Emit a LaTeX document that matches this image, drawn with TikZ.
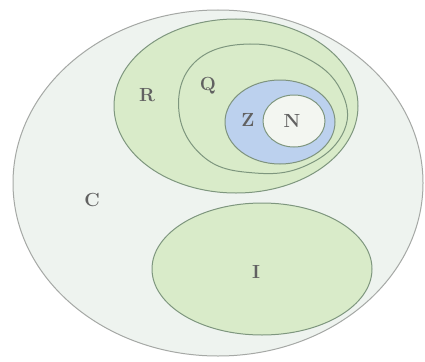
\documentclass[tikz,border=0pt]{standalone}
\begin{document}
\begin{tikzpicture}[x=1pt,y=-1pt,
  setline/.style={line width=1pt},
  lbl/.style={text=black!62, font=\fontsize{19}{21}\selectfont\bfseries}]
\definecolor{outerfill}{HTML}{EEF3EF}
\definecolor{outerline}{HTML}{A5A8A5}
\definecolor{greenfill}{HTML}{D9EBC9}
\definecolor{greenline}{HTML}{7E967E}
\definecolor{bluefill}{HTML}{BCD1EE}
\definecolor{blueline}{HTML}{7E937E}
\definecolor{nfill}{HTML}{F3F6F1}
\useasboundingbox (0,0) rectangle (425,361);
\fill[white] (0,0) rectangle (425,361);
% C
\draw[setline, fill=outerfill, draw=outerline] (218,183) ellipse [x radius=205, y radius=173];
% R
\draw[setline, fill=greenfill, draw=greenline] (236,106) ellipse [x radius=122, y radius=87];
% Q
\draw[setline, draw=greenline, fill=greenfill] plot[smooth cycle, tension=0.7] coordinates {
  (250,44) (310,60) (343,95) (342,135) (305,166) (255,173) (205,158) (179,112) (195,62)};
% Z
\draw[setline, fill=bluefill, draw=blueline] (280,122) ellipse [x radius=55, y radius=42];
% N
\draw[setline, fill=nfill, draw=greenline] (294,121) ellipse [x radius=31, y radius=26];
% I
\draw[setline, fill=greenfill, draw=greenline] (262,269) ellipse [x radius=110, y radius=66];
\node[lbl] (lR) at (147,95) {R};
\node[lbl] (lQ) at (208,86) {Q};
\node[lbl] (lZ) at (248,120) {Z};
\node[lbl] (lN) at (292,121) {N};
\node[lbl] (lC) at (92,200) {C};
\node[lbl] (lI) at (256,272) {I};
\end{tikzpicture}
\end{document}
